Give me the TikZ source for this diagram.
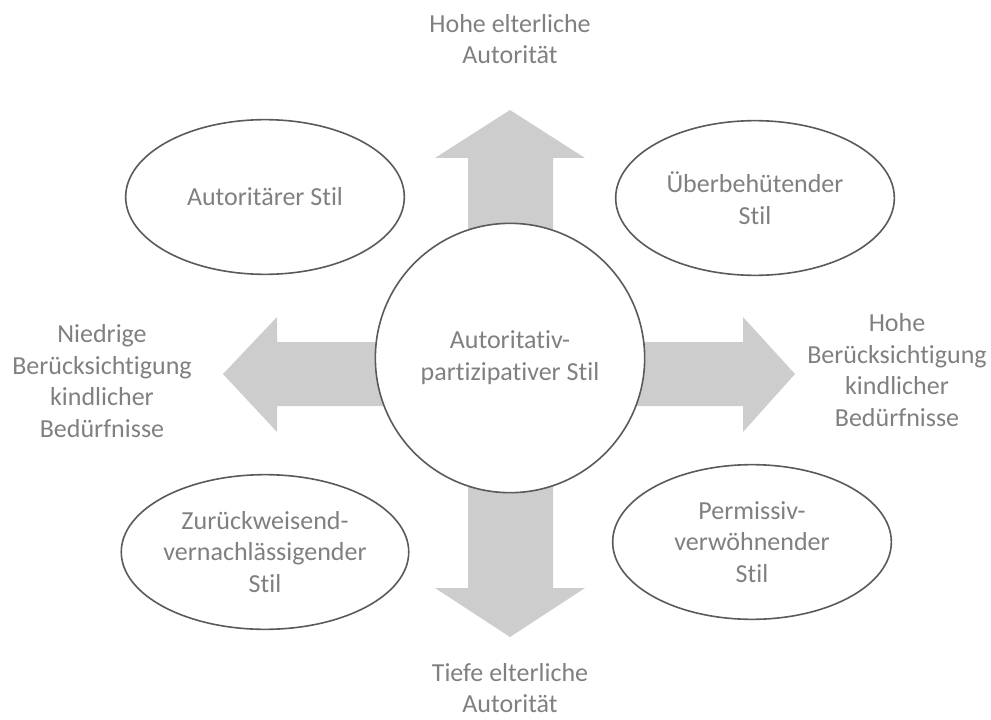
\documentclass[tikz,border=0pt]{standalone}
\usepackage{fontspec}
\setmainfont{Carlito}[Ligatures={NoCommon}]
\usetikzlibrary{shapes.geometric}
\definecolor{txt}{HTML}{808080}
\definecolor{edge}{HTML}{5A5A5A}
\definecolor{arrowfill}{HTML}{CDCDCD}
\tikzset{
  base/.style={font=\fontsize{19.5}{23.8}\selectfont, text=txt, align=center},
  stil/.style={base, ellipse, draw=edge, line width=1.2pt, fill=white, minimum width=209pt, minimum height=116pt, inner sep=0pt},
  core/.style={base, circle, draw=edge, line width=1.2pt, fill=white, minimum size=202pt, inner sep=0pt},
  axislabel/.style={base, inner sep=0pt},
  bigarrow/.style={fill=arrowfill, draw=none}
}
\begin{document}
\begin{tikzpicture}[x=0.75pt, y=-0.75pt]
\useasboundingbox (0,0) rectangle (991,720);
% broad arrows
\fill[bigarrow] (468,358) -- (468,158) -- (435,158) -- (510,110) -- (585,158) -- (553,158) -- (553,358) -- cycle;
\fill[bigarrow] (468,358) -- (468,588) -- (435,588) -- (510,637) -- (585,588) -- (553,588) -- (553,358) -- cycle;
\fill[bigarrow] (510,342) -- (277,342) -- (277,317) -- (223,374) -- (277,432) -- (277,406) -- (510,406) -- cycle;
\fill[bigarrow] (510,342) -- (743,342) -- (743,317) -- (795,374) -- (743,432) -- (743,406) -- (510,406) -- cycle;
% central circle
\node[core] (center) at (510,358) {Autoritativ-\\partizipativer Stil};
% four styles
\node[stil] (tl) at (265,197) {Autoritärer Stil};
\node[stil] (tr) at (755,198) {Überbehütender\\Stil};
\node[stil] (bl) at (265,552) {Zurückweisend-\\vernachlässigender\\Stil};
\node[stil] (br) at (752,542) {Permissiv-\\verwöhnender\\Stil};
% axis labels
\node[axislabel] (top) at (510,39) {Hohe elterliche\\Autorität};
\node[axislabel] (bottom) at (510,688) {Tiefe elterliche\\Autorität};
\node[axislabel] (left) at (102,381) {Niedrige\\Berücksichtigung\\kindlicher\\Bedürfnisse};
\node[axislabel] (right) at (897,370) {Hohe\\Berücksichtigung\\kindlicher\\Bedürfnisse};
\end{tikzpicture}
\end{document}
